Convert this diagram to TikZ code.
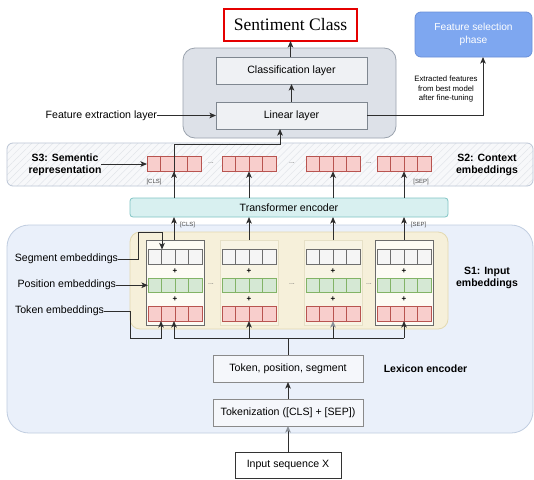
\documentclass[tikz,border=0pt]{standalone}
\usepackage{fontspec}
\setmainfont{Liberation Sans}
\newfontfamily\serifont{Liberation Serif}
\usetikzlibrary{arrows.meta,patterns.meta,calc}
\definecolor{redB}{HTML}{B85450}\definecolor{redF}{HTML}{F8CECC}
\definecolor{grnB}{HTML}{82B366}\definecolor{grnF}{HTML}{D5E8D4}
\definecolor{gryB}{HTML}{6E6E6E}\definecolor{gryF}{HTML}{F5F5F5}
\definecolor{yelF}{HTML}{F6F0DA}\definecolor{yelB}{HTML}{E3D9B0}
\definecolor{colF}{HTML}{FDFBF4}\definecolor{colB}{HTML}{6B6B6B}
\definecolor{colFb}{HTML}{F8F4E4}\definecolor{colBb}{HTML}{E6E0C6}
\definecolor{sOneF}{HTML}{EAF0FA}\definecolor{sOneB}{HTML}{C0CDE0}
\definecolor{sThrF}{HTML}{F7F8FA}\definecolor{sThrH}{HTML}{E2E5EA}\definecolor{sThrB}{HTML}{BCC6D6}
\definecolor{trF}{HTML}{D8F0F0}\definecolor{trB}{HTML}{80C4C4}
\definecolor{ctF}{HTML}{DDE1E8}\definecolor{ctB}{HTML}{9AA2AD}
\definecolor{inF}{HTML}{EFF1F4}\definecolor{inB}{HTML}{7F8790}
\definecolor{fsF}{HTML}{7EA7F0}\definecolor{fsB}{HTML}{6A8FD8}
\definecolor{lxF}{HTML}{F5F7FB}\definecolor{lxB}{HTML}{8A8A8A}
\definecolor{lnC}{HTML}{2E2E2E}
\definecolor{ahG}{HTML}{8A9098}
\newcommand{\mkcells}[4]{%
  \node[#4, minimum width=54pt, minimum height=14.5pt] (#1) at (#2,#3) {};
  \foreach \k in {1,2,3} \draw[#4, fill=none] ($(#1.north west)!\k/4!(#1.north east)$) -- ($(#1.south west)!\k/4!(#1.south east)$);
}
\begin{document}
\begin{tikzpicture}[x=1pt,y=-1pt,
  every node/.style={inner sep=0pt, outer sep=0pt, font=\fontsize{10.6}{12.5}\selectfont},
  lbl/.style={font=\fontsize{10.6}{12.5}\selectfont, text=black},
  bold/.style={font=\fontsize{10.5}{12.5}\selectfont\bfseries, align=center},
  tiny/.style={font=\fontsize{6}{7}\selectfont, text=black!70},
  dots/.style={font=\fontsize{7}{8}\selectfont, text=black!60},
  plus/.style={font=\fontsize{8}{9}\selectfont\bfseries},
  conn/.style={draw=lnC, line width=1pt},
  arr/.style={conn, -{Stealth[length=6.5pt,width=5.5pt,inset=1.5pt]}},
  garr/.style={conn, -{Stealth[length=6.5pt,width=5.5pt,inset=1.5pt,color=ahG]}},
  cellR/.style={draw=redB, fill=redF, line width=0.8pt},
  cellG/.style={draw=grnB, fill=grnF, line width=0.8pt},
  cellS/.style={draw=gryB, fill=gryF, line width=0.8pt},
  inbox/.style={draw=inB, fill=inF, line width=0.8pt, minimum width=151pt, minimum height=27pt},
  lxbox/.style={draw=lxB, fill=lxF, line width=0.8pt, minimum width=150pt, minimum height=27pt},
  colA/.style={draw=colB, fill=colF, line width=0.8pt, minimum width=58pt, minimum height=85pt},
  colC/.style={draw=colBb, fill=colFb, line width=0.8pt, minimum width=58pt, minimum height=85pt},
]
\useasboundingbox (0,0) rectangle (534,479);
\fill[white] (0,0) rectangle (534,479);

% ---------- bands ----------
\node[draw=sOneB, fill=sOneF, line width=0.8pt, rounded corners=22pt,
  minimum width=526pt, minimum height=208pt] (sonebox) at (270,329) {};
\node[draw=sThrB, line width=0.8pt, rounded corners=6pt,
  preaction={fill=sThrF},
  pattern={Lines[angle=45,distance=5pt,line width=0.5pt]}, pattern color=sThrH,
  minimum width=526pt, minimum height=43pt] (sthr) at (270,164.5) {};
\node[draw=ctB, fill=ctF, line width=0.8pt, rounded corners=12pt,
  minimum width=213pt, minimum height=90pt] (cont) at (289.5,93) {};

% ---------- top part ----------
\node[draw=red!90!black, fill=white, line width=2.2pt, minimum width=133pt, minimum height=32pt,
  font=\serifont\fontsize{17.5}{19}\selectfont] (sent) at (290.5,25) {Sentiment Class};
\node[draw=fsB, fill=fsF, line width=0.8pt, rounded corners=6pt, minimum width=117pt, minimum height=45pt,
  text=white, align=center, font=\fontsize{10.2}{12.5}\selectfont] (fsel) at (473.5,34.5) {Feature selection\\phase};
\node[inbox] (cls) at (291.5,70.5) {Classification layer};
\node[inbox] (lin) at (291.5,115.5) {Linear layer};
\node[lbl, anchor=east] (fex) at (157,115.5) {Feature extraction layer};
\node[font=\fontsize{7.8}{9.5}\selectfont, align=center] (extr) at (446,89) {Extracted features\\from best model\\after fine-tuning};
\coordinate (fsin) at (483,57);
\coordinate (linin) at (280,129);

\draw[arr] (cls.north -| sent) -- (sent.south);
\draw[arr] (lin.north) -- (cls.south);
\draw[arr] (fex.east) -- (lin.west);
\draw[arr] (lin.east) -| (fsin);

% ---------- S3 / S2 ----------
\node[bold] (sthree) at (65,165) {S3: Sementic\\representation};
\node[bold] (stwo) at (487,165) {S2: Context\\embeddings};
\mkcells{g1}{174}{164}{cellR}
\mkcells{g2}{249}{164}{cellR}
\mkcells{g3}{333}{164}{cellR}
\mkcells{g4}{404}{164}{cellR}
\node[dots] (d1) at (211,163) {...};
\node[dots] (d2) at (292,163) {...};
\node[dots] (d3) at (369,163) {...};
\node[tiny] (clsa) at (154,182) {[CLS]};
\node[tiny] (sepa) at (421,182) {[SEP]};
\draw[arr] (sthree.east |- g1.west) -- (g1.west);

% ---------- transformer ----------
\node[draw=trB, fill=trF, line width=0.8pt, rounded corners=3pt, minimum width=318pt, minimum height=19pt] (tr) at (289,207.5) {Transformer encoder};
\coordinate (bend) at (174,144);
\draw[arr] (tr.north -| g1) -- (g1.south);
\draw[arr] (tr.north -| g2) -- (g2.south);
\draw[arr] (tr.north -| g3) -- (g3.south);
\draw[arr] (tr.north -| g4) -- (g4.south);
\draw[arr] (tr.north -| bend) -- (bend) -| (linin);

% ---------- S1 ----------
\node[draw=yelB, fill=yelF, line width=0.8pt, rounded corners=10pt, minimum width=318pt, minimum height=97pt] (yel) at (289,280.5) {};
\node[colA] (c1) at (175,282.5) {};
\node[colC] (c2) at (249,282.5) {};
\node[colC] (c3) at (333,282.5) {};
\node[colA] (c4) at (404,282.5) {};
\foreach \n/\x in {1/175,2/249,3/333,4/404}{
  \mkcells{c\n s}{\x}{256.75}{cellS}
  \mkcells{c\n p}{\x}{285.25}{cellG}
  \mkcells{c\n t}{\x}{313.75}{cellR}
  \node[plus] (pa\n) at (\x,271) {+};
  \node[plus] (pb\n) at (\x,299.5) {+};
}
\node[dots] (e1) at (211,284) {...};
\node[dots] (e2) at (292,284) {...};
\node[dots] (e3) at (369,284) {...};
\node[tiny] (clsb) at (187.5,225) {[CLS]};
\node[tiny] (sepb) at (418.5,225) {[SEP]};
\node[bold] (sone) at (487,278) {S1: Input\\embeddings};

\draw[arr] (c1.north -| bend) -- (tr.south -| bend);
\draw[arr] (c2.north) -- (tr.south -| c2);
\draw[arr] (c3.north) -- (tr.south -| c3);
\draw[arr] (c4.north) -- (tr.south -| c4);

\node[lbl, anchor=east] (segl) at (118,259) {Segment embeddings};
\node[lbl, anchor=east] (posl) at (116,285.25) {Position embeddings};
\node[lbl, anchor=east] (tokl) at (104,311) {Token embeddings};
\coordinate (segin) at (162,249.5);
\coordinate (tokin) at (161,321);
\draw[arr] (segl.east) -| (138,232) -| (segin);
\draw[arr] (posl.east) -- (c1p.west);
\draw[arr] (tokl.east) -| (130,338) -| (tokin);

% ---------- lexicon encoder ----------
\node[lxbox] (tps) at (288,368.5) {Token, position, segment};
\node[lxbox] (tkz) at (288,412.5) {Tokenization ([CLS] + [SEP])};
\node[draw=black!80, fill=white, line width=0.9pt, minimum width=106pt, minimum height=26pt] (inp) at (288,465) {Input sequence X};
\node[bold] (lex) at (425.5,369) {Lexicon encoder};
\coordinate (busL) at (174,338);
\coordinate (busR) at (404,338);
\draw[conn] (tps.north) -- (tps.north |- busL);
\draw[conn] (busL) -- (busR);
\draw[arr] (busL) -- (busL |- c1t.south);
\draw[arr] (busL -| c2t) -- (c2t.south);
\draw[garr] (busL -| c3t) -- (c3t.south);
\draw[arr] (busR) -- (c4t.south);
\draw[arr] (tkz.north) -- (tps.south);
\draw[garr] (inp.north) -- (tkz.south);
\end{tikzpicture}
\end{document}
